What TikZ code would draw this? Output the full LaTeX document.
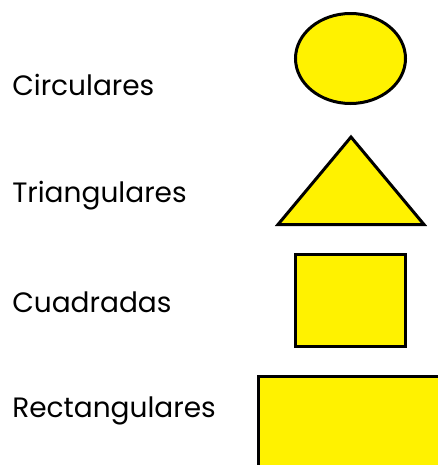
\documentclass[tikz,border=0pt]{standalone}
\usepackage{fontspec}
\setmainfont{Poppins}
\begin{document}
\begin{tikzpicture}[x=0.75pt,y=-0.75pt,
  forma/.style={draw=black,fill=yellow,line width=2.25pt,line join=miter},
  etiqueta/.style={anchor=base west,inner sep=0pt,font=\fontsize{21}{25}\selectfont}]
  \useasboundingbox (0,0) rectangle (438,465);

  \node[etiqueta] (circ) at (12,95){Circulares};
  \node[etiqueta] (tri) at (12,202){Triangulares};
  \node[etiqueta] (cuad) at (12,312){Cuadradas};
  \node[etiqueta] (rect) at (12,417){Rectangulares};

  \draw[forma] (350.5,58.5) ellipse [x radius=55, y radius=45];
  \draw[forma] (351,137) -- (424,224.5) -- (278,224.5) -- cycle;
  \draw[forma] (295.5,254.5) rectangle (405.5,346.5);
  \begin{scope}
    \clip (0,0) rectangle (438,465);
    \draw[forma] (258.5,376.5) rectangle (445,475);
  \end{scope}
\end{tikzpicture}
\end{document}
